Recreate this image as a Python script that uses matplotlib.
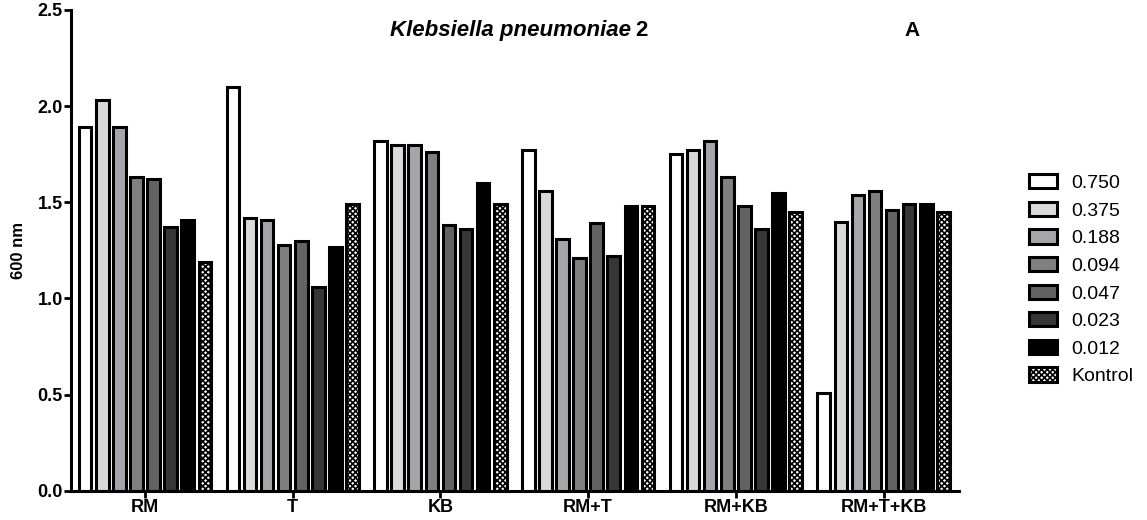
import matplotlib.pyplot as plt
import numpy as np

plt.rcParams['font.family'] = ['Liberation Sans', 'DejaVu Sans']
plt.rcParams['hatch.linewidth'] = 1.2

groups = ['RM', 'T', 'KB', 'RM+T', 'RM+KB', 'RM+T+KB']
series = ['0.750', '0.375', '0.188', '0.094', '0.047', '0.023', '0.012', 'Kontrol']
values = [
    [1.89, 2.10, 1.82, 1.77, 1.75, 0.51],   # 0.750
    [2.03, 1.42, 1.80, 1.56, 1.77, 1.40],   # 0.375
    [1.89, 1.41, 1.80, 1.31, 1.82, 1.54],   # 0.188
    [1.63, 1.28, 1.76, 1.21, 1.63, 1.56],   # 0.094
    [1.62, 1.30, 1.38, 1.39, 1.48, 1.46],   # 0.047
    [1.37, 1.06, 1.36, 1.22, 1.36, 1.49],   # 0.023
    [1.41, 1.27, 1.60, 1.48, 1.55, 1.49],   # 0.012
    [1.19, 1.49, 1.49, 1.48, 1.45, 1.45],   # Kontrol
]
colors = ['#ffffff', '#d9d9d9', '#a6a6aa', '#808080', '#636363', '#363636', '#000000', '#ffffff']

fig = plt.figure(figsize=(11.47, 5.2), dpi=100)
ax = fig.add_axes([0.062, 0.056, 0.774, 0.925])

x = np.arange(len(groups))
step = 0.1157
width = 0.085
for i, name in enumerate(series):
    pos = x + (i - 3.5) * step
    hatch = 'xxxxxx' if name == 'Kontrol' else None
    ax.bar(pos, values[i], width, color=colors[i], edgecolor='black',
           linewidth=2.2, hatch=hatch, label=name)

ax.set_xlim(-0.50, 5.51)
ax.set_ylim(0, 2.5)
ax.set_yticks([0.0, 0.5, 1.0, 1.5, 2.0, 2.5])
ax.set_yticklabels(['0.0', '0.5', '1.0', '1.5', '2.0', '2.5'])
ax.set_xticks(x)
ax.set_xticklabels(groups)
for lab in ax.get_xticklabels() + ax.get_yticklabels():
    lab.set_fontweight('bold')
    lab.set_fontsize(13)
ax.tick_params(axis='both', width=2, length=5, pad=1)
ax.set_ylabel('600 nm', fontsize=12, fontweight='bold', labelpad=8)
for s in ['top', 'right']:
    ax.spines[s].set_visible(False)
for s in ['left', 'bottom']:
    ax.spines[s].set_linewidth(2.2)

fig.text(0.550, 0.942, 'Klebsiella pneumoniae', fontsize=16, fontweight='bold',
         fontstyle='italic', ha='right', va='center')
fig.text(0.554, 0.942, '2', fontsize=16, fontweight='bold', ha='left', va='center')
fig.text(0.795, 0.942, 'A', fontsize=15, fontweight='bold', ha='center', va='center')

fig.legend(loc='center left', bbox_to_anchor=(0.897, 0.462), frameon=False,
           fontsize=14, handlelength=1.45, handleheight=0.75, labelspacing=0.5,
           handletextpad=0.75, borderpad=0, borderaxespad=0)

fig.savefig('out.png', dpi=100)
